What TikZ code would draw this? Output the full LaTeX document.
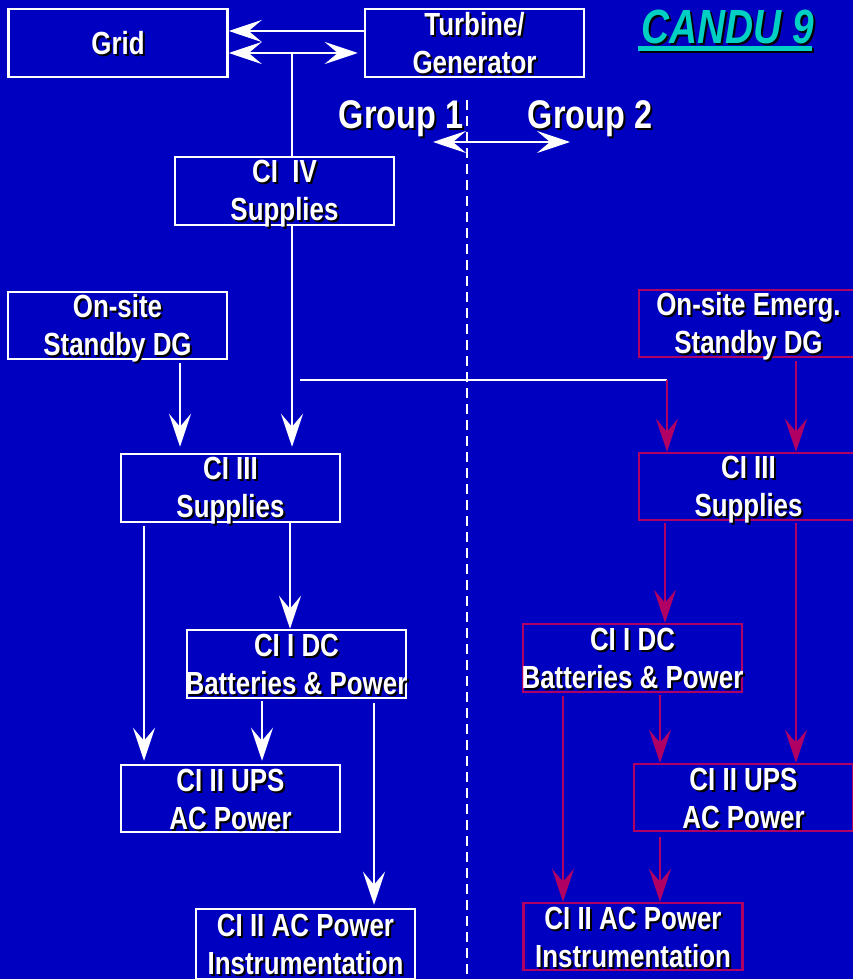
\documentclass[tikz,border=0pt]{standalone}
\usepackage{fontspec}
\setmainfont{Liberation Sans}[FakeStretch=0.81]
\usetikzlibrary{arrows.meta}
\definecolor{bgblue}{RGB}{0,0,192}
\definecolor{mag}{RGB}{176,0,100}
\definecolor{tealc}{RGB}{0,208,196}
\newcommand{\shd}[1]{\leavevmode\rlap{\kern2pt\raisebox{-2pt}{\textcolor{black}{#1}}}#1}
\newcommand{\firstl}[1]{\rule{0pt}{30pt}\shd{#1}}
\newcommand{\lastl}[1]{\shd{#1}\rule[-7pt]{0pt}{0pt}}
\newcommand{\onel}[1]{\rule[-7pt]{0pt}{37pt}\shd{#1}}
\tikzset{
  box/.style={draw=white, line width=2.5pt, minimum width=219pt, minimum height=68pt, inner sep=0pt},
  mbox/.style={box, draw=mag},
  txt/.style={text=white, align=center, inner sep=0pt, font=\fontsize{32}{38}\selectfont\bfseries},
  wl/.style={draw=white, line width=2.5pt},
  ml/.style={draw=mag, line width=2.5pt},
  arw/.style={arrows={-Stealth[length=33pt,width=22pt,inset=13pt]}},
  darw/.style={arrows={Stealth[length=33pt,width=22pt,inset=13pt]-Stealth[length=33pt,width=22pt,inset=13pt]}},
  grp/.style={text=white, font=\fontsize{40}{44}\selectfont\bfseries, inner sep=0pt}
}
\begin{document}
\begin{tikzpicture}[x=1pt,y=-1pt]
\useasboundingbox (0,0) rectangle (853,979);
\fill[bgblue] (0,0) rectangle (853,979);
% dashed divider
\coordinate (dtop) at (467,100);
\coordinate (dbot) at (467,979);
\draw[white, line width=2pt, dash pattern=on 10pt off 6pt] (dtop) -- (dbot);
% boxes
\node[box, label={[txt]center:{\onel{Grid}}}] (grid) at (118,43) {};
\node[box, label={[txt]center:{\firstl{Turbine/}\\\lastl{Generator}}}] (turb) at (474.5,43) {};
\node[box, label={[txt]center:{\firstl{CI\ \ IV}\\\lastl{Supplies}}}] (ci4) at (284.5,191) {};
\node[box, minimum height=67pt, label={[txt]center:{\firstl{On-site}\\\lastl{Standby DG}}}] (dgL) at (117.5,325.5) {};
\node[mbox, minimum height=67pt, label={[txt]center:{\firstl{On-site Emerg.}\\\lastl{Standby DG}}}] (dgR) at (748.5,323.5) {};
\node[box, label={[txt]center:{\firstl{CI III}\\\lastl{Supplies}}}] (ci3L) at (230.5,488) {};
\node[mbox, minimum height=67pt, label={[txt]center:{\firstl{CI III}\\\lastl{Supplies}}}] (ci3R) at (748.5,486.5) {};
\node[box, label={[txt]center:{\firstl{CI I DC}\\\lastl{Batteries \& Power}}}] (dcL) at (296.5,664) {};
\node[mbox, label={[txt]center:{\firstl{CI I DC}\\\lastl{Batteries \& Power}}}] (dcR) at (632.5,658) {};
\node[box, minimum height=67pt, label={[txt]center:{\firstl{CI II UPS}\\\lastl{AC Power}}}] (upsL) at (230.5,798.5) {};
\node[mbox, minimum height=67pt, label={[txt]center:{\firstl{CI II UPS}\\\lastl{AC Power}}}] (upsR) at (743.5,797.5) {};
\node[box, minimum height=70pt, label={[txt]center:{\firstl{CI II AC Power}\\\lastl{Instrumentation}}}] (insL) at (305.5,944) {};
\node[mbox, minimum height=67pt, label={[txt]center:{\firstl{CI II AC Power}\\\lastl{Instrumentation}}}] (insR) at (633,936.5) {};
% title and group labels
\node[text=tealc, font=\fontsize{48}{50}\selectfont\bfseries\itshape, inner sep=0pt] (title) at (728,28)
  {\rlap{\kern2pt\raisebox{-2pt}{\textcolor{black}{CANDU 9}}}CANDU 9};
\draw[black, line width=5pt] (640,51) -- (814,51);
\draw[tealc, line width=5pt] (638,49) -- (812,49);
\node[grp] (g1) at (401,120) {\shd{Group 1}};
\node[grp] (g2) at (590,120) {\shd{Group 2}};
\coordinate (ga) at (433,142);
\coordinate (gb) at (570,142);
\draw[wl, darw] (ga) -- (gb);
% top connections
\draw[wl, arw] (turb.west |- 0,31) -- (grid.east |- 0,31);
\draw[wl, darw, shorten >=6pt] (grid.east |- 0,53) -- (turb.west |- 0,53);
\coordinate (tj) at (292,53);
\draw[wl] (tj) -- (ci4.north -| tj);
\draw[wl, arw, shorten >=6pt] (ci4.south -| tj) -- (ci3L.north -| tj);
\draw[wl, arw, shorten <=3pt, shorten >=6pt] (dgL.south -| 180,0) -- (ci3L.north -| 180,0);
% cross connection
\coordinate (xa) at (300,380);
\coordinate (xb) at (667,380);
\draw[wl] (xa) -- (xb);
\draw[ml, arw] (xb) -- (ci3R.north -| xb);
\draw[ml, arw, shorten <=3pt] (dgR.south -| 796,0) -- (ci3R.north -| 796,0);
% group 1 lower
\draw[wl, arw, shorten <=3pt, shorten >=3pt] (ci3L.south -| 144,0) -- (upsL.north -| 144,0);
\draw[wl, arw] (ci3L.south -| 290,0) -- (dcL.north -| 290,0);
\draw[wl, arw, shorten <=2pt, shorten >=3pt] (dcL.south -| 262,0) -- (upsL.north -| 262,0);
\draw[wl, arw, shorten <=4pt, shorten >=3pt] (dcL.south -| 374,0) -- (insL.north -| 374,0);
% group 2 lower
\draw[ml, arw, shorten <=2pt] (ci3R.south -| 665,0) -- (dcR.north -| 665,0);
\draw[ml, arw, shorten <=2pt] (ci3R.south -| 796,0) -- (upsR.north -| 796,0);
\draw[ml, arw, shorten <=2pt] (dcR.south -| 660,0) -- (upsR.north -| 660,0);
\draw[ml, arw, shorten <=3pt] (dcR.south -| 563,0) -- (insR.north -| 563,0);
\draw[ml, arw, shorten <=5pt] (upsR.south -| 660,0) -- (insR.north -| 660,0);
\end{tikzpicture}
\end{document}
